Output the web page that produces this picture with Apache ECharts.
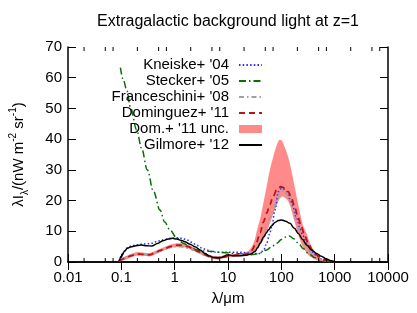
<!DOCTYPE html>
<html>
<head>
<meta charset="utf-8">
<script src="https://cdn.jsdelivr.net/npm/echarts@6/dist/echarts.min.js"></script>
<style>
html,body{margin:0;padding:0;background:#fff;}
#c{width:417px;height:313px;}
</style>
</head>
<body>
<div id="c"></div>
<script>
const titleText = 'Extragalactic background light at z=1';
const xTickLabels = ['0.01','0.1','1','10','100','1000','10000'];
const yTickLabels = ['0','10','20','30','40','50','60','70'];
const minorTicks = [0.02,0.05,0.07, 0.2,0.5,0.7, 2,5,7, 20,50,70, 200,500,700, 2000,5000,7000];

const kneiskeX = [0.091,0.1,0.11,0.13,0.156,0.2,0.24,0.3,0.37,0.45,0.61,0.8,1.1,1.4,1.67,2.1,2.58,3.2,4.0,5,6.1,8,9.4,12,16.7,22,30,40,47,53,60,66,76,88,101,112,125,145,165,190,218,255,299,360,430,550,700,900];
const kneiskeY = [0.3,2.0,3.4,4.6,5.3,5.6,5.8,5.9,6.1,6.6,7.2,7.7,7.9,7.7,7.2,6.4,5.5,4.6,3.9,3.4,3.2,3.1,3.2,3.2,3.2,3.0,2.8,2.8,4.0,6.1,9.0,11.5,16.9,22.9,24.0,23.7,22.9,20.5,18.0,14.5,11.5,8.5,6.1,3.8,2.3,1.0,0.3,0.1];

const steckerX = [0.096,0.11,0.126,0.15,0.194,0.24,0.307,0.4,0.531,0.65,0.818,1.1,1.45,2.0,2.58,3.5,5.3,7,9.4,13,19.4,26,32,40,53,66,82,100,120,141,170,209,260,321,420,531,700,900];
const steckerY = [63.3,59,56,50,43,37,30,23,16.9,13,10.4,7.8,6.1,4.8,3.9,3.6,3.4,3.2,3.0,2.8,2.6,2.3,2.5,3.0,3.9,5.0,6.1,7.3,8.1,8.5,7.6,6.1,4.3,2.8,1.5,0.65,0.2,0.05];

const franceschiniX = [0.091,0.1,0.12,0.15,0.2,0.26,0.34,0.45,0.6,0.82,1.1,1.4,1.8,2.3,2.9,3.6,4.6,6,8,10.8,15,20,26,33,40,47,53,61,70,82,95,105,118,135,160,185,215,250,300,370,460,600,800];
const franceschiniY = [0.2,1.0,1.6,2.1,2.4,2.4,2.5,3.2,4.0,4.7,5.0,4.9,4.5,3.8,3.0,2.3,1.8,1.6,1.8,2.1,2.3,2.5,3.0,4.2,6.6,9.0,11.5,14.3,16.9,20.2,22.9,23.2,22.8,21.5,18.0,14.0,10.5,7.5,4.8,2.8,1.4,0.5,0.1];

const dominguezX = [0.091,0.1,0.117,0.15,0.194,0.25,0.34,0.42,0.53,0.66,0.82,1.0,1.26,1.5,1.8,2.2,2.78,3.5,4.6,5.5,6.6,8.5,10.8,14,19.4,24,28,34,40,46,53,61,70,82,98,115,135,155,178,205,237,275,321,380,458,550,660,800,1000];
const dominguezY = [0.3,0.8,1.2,2.0,2.6,2.5,2.3,2.9,3.7,4.4,5.0,5.4,5.5,5.3,5.0,4.3,3.4,2.5,1.7,1.4,1.2,1.6,2.0,2.2,2.3,2.8,3.9,6.3,9.5,13.0,15.9,18.7,21.3,23.5,24.5,24.1,22.9,20.6,18.0,14.5,11.5,8.5,6.1,3.9,2.3,1.3,0.65,0.2,0.05];

const bandX  = [0.091,0.1,0.117,0.15,0.194,0.25,0.34,0.42,0.53,0.66,0.82,1.0,1.26,1.5,1.8,2.2,2.78,3.5,4.6,5.5,6.6,8.5,10.8,14,19.4,24,28,32,35,40,46,53,61,70,80,91,103,115,130,145,160,178,195,218,237,260,299,321,360,398,460,531,660,800,1000];
const bandLo = [0,0.4,0.7,1.5,2.0,2.0,1.8,2.4,3.2,3.9,4.5,4.9,5.0,4.8,4.5,3.8,2.9,2.0,1.3,1.0,0.9,1.2,1.6,1.8,1.9,2.2,2.8,3.4,4.3,5.6,7.2,9.5,12.6,15.5,18.0,20.3,21.3,21.0,20.2,18.5,15.9,13.0,10.4,7.8,6.1,4.5,3.0,2.3,1.6,1.1,0.6,0.3,0.1,0,0];
const bandHi = [0.5,1.3,1.8,2.6,3.2,3.1,2.9,3.5,4.3,5.0,5.6,6.0,6.1,5.9,5.6,4.9,4.0,3.1,2.3,1.9,1.8,2.1,2.5,2.7,3.0,3.6,5.0,7.5,10.4,14.0,19.1,24.5,30.0,34.0,37.5,39.7,39.5,37.5,35.0,32.0,28.5,24.5,21.0,16.9,14.0,11.5,9.3,7.5,5.5,3.9,2.3,1.2,0.4,0.1,0];

const gilmoreX = [0.091,0.1,0.115,0.13,0.156,0.2,0.24,0.3,0.37,0.49,0.6,0.76,0.9,1.1,1.3,1.56,1.9,2.4,3.0,3.7,4.4,5.3,6.5,7.6,8.5,9.4,10.5,12.5,16,22,27,32,36,40,47,53,57,66,76,88,101,120,145,175,209,250,299,370,458,560,707,850,1000];
const gilmoreY = [0.2,1.8,3.5,4.5,5.0,5.4,5.5,5.3,5.2,6.1,6.9,7.5,7.7,7.5,7.1,6.6,5.9,5.0,3.9,2.8,2.0,1.5,1.4,1.5,1.9,2.3,2.3,2.0,2.0,2.2,2.6,3.4,4.6,6.1,8.2,9.6,10.4,11.8,12.9,13.5,13.7,13.3,12.6,11.0,9.3,7.3,5.5,3.9,2.8,1.9,1.0,0.4,0.1];

const names = ["Kneiske+ '04","Stecker+ '05","Franceschini+ '08","Dominguez+ '11","Dom.+ '11 unc.","Gilmore+ '12"];

const FONT = 'Liberation Sans';
const pairs = (xs, ys) => xs.map((x, i) => [x, ys[i]]);

const chart = echarts.init(document.getElementById('c'), null, {renderer: 'canvas'});

function lineSeries(name, xs, ys, color, type, width) {
  return {
    name, type: 'line', data: pairs(xs, ys), xAxisIndex: 0, yAxisIndex: 0,
    symbol: 'circle', symbolSize: 0, showSymbol: false, smooth: 0.35, smoothMonotone: 'x',
    lineStyle: {color, type, width}, itemStyle: {color}, z: 3, animation: false
  };
}

const axisCommon = {
  axisLine: {show: true, lineStyle: {color: '#000', width: 1.5}},
  axisTick: {show: true, inside: true, length: 8, lineStyle: {color: '#000', width: 1}},
  splitLine: {show: false}
};

const option = {
  animation: false,
  backgroundColor: '#fff',
  grid: {left: 68, right: 29, top: 47, bottom: 51, containLabel: false},
  graphic: [{
    type: 'text', x: 228, y: 22,
    style: {text: titleText, font: '16px "' + FONT + '"', fill: '#000', textAlign: 'center', textVerticalAlign: 'middle'}
  }],
  legend: {
    orient: 'vertical', right: 154, top: 57, align: 'right', padding: 0,
    itemWidth: 23, itemHeight: 8, itemGap: 0, selectedMode: false,
    itemStyle: {opacity: 0},
    textStyle: {fontSize: 15, fontFamily: FONT, color: '#000', lineHeight: 16, padding: [0, 5, 0, 0]},
    data: [
      {name: names[0]}, {name: names[1]}, {name: names[2]}, {name: names[3]},
      {name: names[4], icon: 'rect', itemStyle: {color: '#ff8a8a', opacity: 1}},
      {name: names[5]}
    ]
  },
  xAxis: [
    Object.assign({
      type: 'log', logBase: 10, min: 0.01, max: 10000, position: 'bottom',
      name: 'λ/μm', nameLocation: 'middle', nameGap: 29,
      nameTextStyle: {fontSize: 15, fontFamily: FONT, color: '#000'},
      axisLabel: {show: true, margin: 8, fontSize: 15, fontFamily: FONT, color: '#000',
        formatter: v => xTickLabels[Math.round(Math.log10(v)) + 2] || ''}
    }, axisCommon),
    Object.assign({
      type: 'log', logBase: 10, min: 0.01, max: 10000, position: 'top',
      axisLabel: {show: false}
    }, axisCommon)
  ],
  yAxis: [
    Object.assign({
      type: 'value', min: 0, max: 70, interval: 10, position: 'left',
      name: '{n|λI}{sub|λ}{n|/(nW m}{sup|-2}{n| sr}{sup|-1}{n|)}',
      nameLocation: 'middle', nameGap: 38, nameRotate: 90,
      nameTextStyle: {
        fontSize: 15, fontFamily: FONT, color: '#000',
        rich: {
          n: {fontSize: 15, fontFamily: FONT, color: '#000', lineHeight: 22, verticalAlign: 'middle'},
          sub: {fontSize: 10, fontFamily: FONT, color: '#000', lineHeight: 12, verticalAlign: 'bottom'},
          sup: {fontSize: 10, fontFamily: FONT, color: '#000', lineHeight: 12, verticalAlign: 'top'}
        }
      },
      axisLabel: {show: true, margin: 6, fontSize: 15, fontFamily: FONT, color: '#000',
        formatter: v => yTickLabels[Math.round(v / 10)] || ''}
    }, axisCommon),
    Object.assign({
      type: 'value', min: 0, max: 70, interval: 10, position: 'right',
      axisLabel: {show: false}
    }, axisCommon)
  ],
  series: [
    {
      name: names[4], type: 'custom', xAxisIndex: 0, yAxisIndex: 0, z: 1,
      itemStyle: {color: '#ff8a8a'},
      encode: {x: 0, y: [1, 2]},
      data: bandX.map((x, i) => [x, bandLo[i], bandHi[i]]),
      renderItem: function (params, api) {
        if (params.dataIndex !== 0) return null;
        const pts = [];
        for (let i = 0; i < bandX.length; i++) pts.push(api.coord([bandX[i], bandHi[i]]));
        for (let i = bandX.length - 1; i >= 0; i--) pts.push(api.coord([bandX[i], bandLo[i]]));
        return {type: 'polygon', shape: {points: pts, smooth: 0.25}, style: {fill: '#ff8a8a', stroke: null}};
      }
    },
    lineSeries(names[0], kneiskeX, kneiskeY, '#2a2aff', [1.5, 2.2], 1.5),
    lineSeries(names[1], steckerX, steckerY, '#0a6e0a', [7, 3, 1.5, 3], 1.5),
    lineSeries(names[2], franceschiniX, franceschiniY, '#a0a0a0', [5, 3, 1.5, 3], 1.5),
    lineSeries(names[3], dominguezX, dominguezY, '#bb1515', [6, 4], 1.8),
    lineSeries(names[5], gilmoreX, gilmoreY, '#000000', 'solid', 1.5),
    {
      name: 'minorTicks', type: 'custom', xAxisIndex: 0, yAxisIndex: 0, z: 5, silent: true, clip: false,
      encode: {x: 0, y: 1},
      data: minorTicks.map(v => [v, 0]),
      renderItem: function (params, api) {
        const v = api.value(0);
        const b = api.coord([v, 0]);
        const t = api.coord([v, 70]);
        return {type: 'group', children: [
          {type: 'line', shape: {x1: b[0], y1: b[1], x2: b[0], y2: b[1] - 4}, style: {stroke: '#000', lineWidth: 1}},
          {type: 'line', shape: {x1: t[0], y1: t[1], x2: t[0], y2: t[1] + 4}, style: {stroke: '#000', lineWidth: 1}}
        ]};
      }
    }
  ]
};
chart.setOption(option);
</script>
</body>
</html>
